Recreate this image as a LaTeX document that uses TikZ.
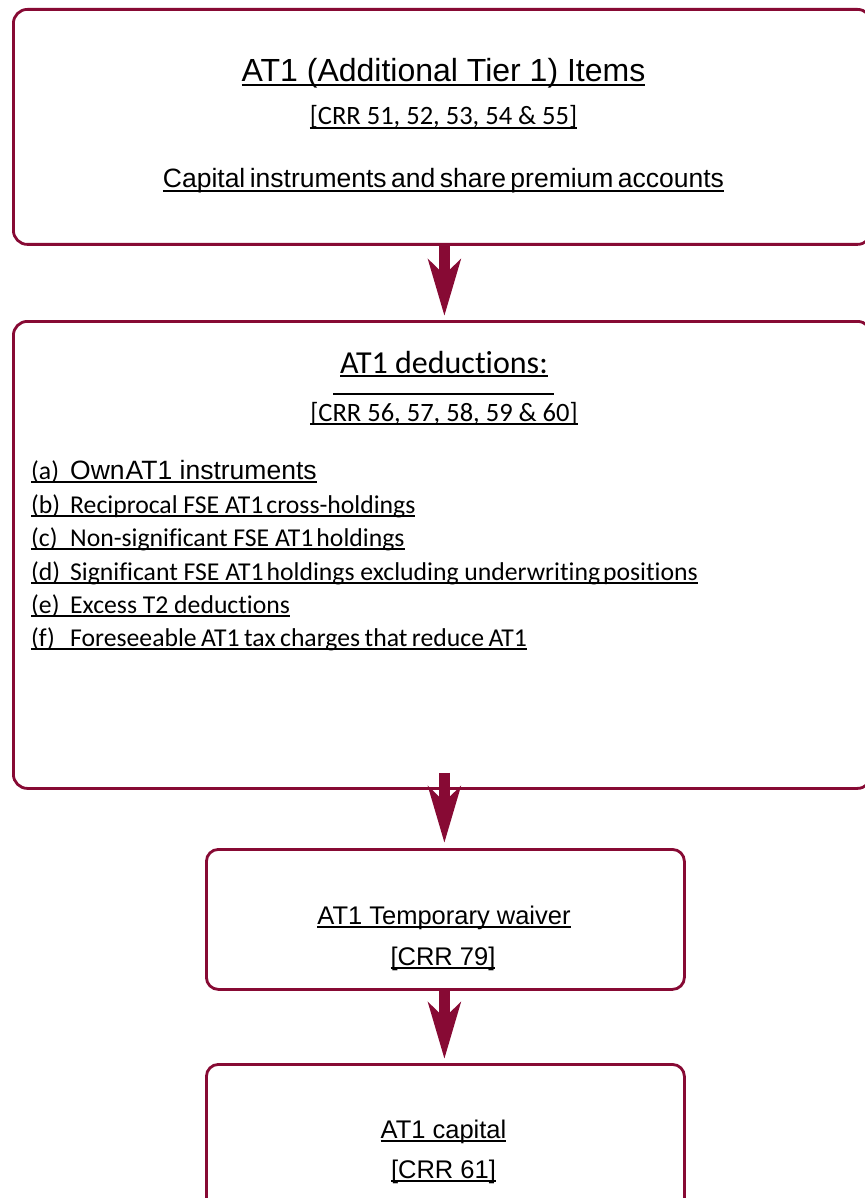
\documentclass[tikz,border=0pt]{standalone}
\usepackage{fontspec}
\setmainfont{Liberation Sans}
\newfontfamily\carlito[Ligatures=NoCommon]{Carlito}
\newfontfamily\arialtight[WordSpace=0.6]{Liberation Sans}
\usetikzlibrary{arrows.meta}

\definecolor{claret}{RGB}{135,10,52}

% underlined text, rule just below the baseline
\newsavebox\ulbox
\newcommand\ulin[1]{\sbox\ulbox{#1}\rlap{\rule[-3.6pt]{\wd\ulbox}{1.8pt}}\usebox\ulbox}
\newcommand\nsp{\hspace{3pt}}

\begin{document}
\begin{tikzpicture}[
            x = 1pt, y = -1pt, % pixel grid, y runs down
            inner sep = 0pt
        ]

        \tikzstyle{box}=[
            rectangle,
            draw = claret,
            line width = 2.8pt,
            rounded corners = 14pt,
            anchor = north west
        ]
        \tikzstyle{flow}=[
            draw = claret,
            line width = 11pt,
            -{Stealth[length=56pt, width=32pt, inset=15pt]}
        ]
        \tikzstyle{head}=[anchor = base, font = \fontsize{32}{38}\selectfont]
        \tikzstyle{ref}=[anchor = base, font = \carlito\fontsize{26.5}{32}\selectfont]
        \tikzstyle{label}=[anchor = base, font = \fontsize{25.5}{30}\selectfont]
        \tikzstyle{item}=[anchor = base west, font = \carlito\fontsize{25.7}{30}\selectfont]

        \path[use as bounding box, fill = white] (0,0) rectangle (864,1198);

        % boxes
        \node[box, minimum width = 858pt, minimum height = 235pt] (items) at (12,8) {};
        \node[box, minimum width = 858pt, minimum height = 467pt] (ded) at (12,320) {};
        \node[box, minimum width = 478pt, minimum height = 140pt, rounded corners = 12pt] (waiver) at (205,848) {};
        \node[box, minimum width = 478pt, minimum height = 180pt, rounded corners = 12pt] (capital) at (205,1063) {};

        % top box
        \node[head] (itemshead) at (443.5,82) {\ulin{AT1 (Additional Tier 1) Items}};
        \node[ref] (itemsref) at (443.5,125) {\ulin{[CRR 51, 52, 53, 54 \& 55]}};
        \node[label, font = \arialtight\fontsize{26.5}{30}\selectfont] (itemsline) at (443.5,188) {\ulin{Capital instruments and share premium accounts}};

        % deductions box
        \node[head, font = \carlito\fontsize{32}{38}\selectfont] (dedhead) at (444,373) {\ulin{AT1 deductions:}};
        \draw[line width = 1.4pt] (333,394) -- (554,394);
        \node[ref] (dedref) at (444,421) {\ulin{[CRR 56, 57, 58, 59 \& 60]}};

        \node[item] (da) at (31,479.5) {\ulin{\makebox[39pt][l]{(a)}\rmfamily\fontsize{26.5}{30}\selectfont Own\hspace{1pt}AT1 instruments}};
        \node[item] (db) at (31,513) {\ulin{\makebox[39pt][l]{(b)}Reciprocal FSE AT1\nsp cross-holdings}};
        \node[item] (dc) at (31,546.5) {\ulin{\makebox[39pt][l]{(c)}Non-significant FSE AT1\nsp holdings}};
        \node[item] (dd) at (31,580) {\ulin{\makebox[39pt][l]{(d)}Significant FSE AT1\nsp holdings excluding underwriting\nsp positions}};
        \node[item] (de) at (31,613) {\ulin{\makebox[39pt][l]{(e)}Excess T2 deductions}};
        \node[item] (df) at (31,646.5) {\ulin{\makebox[39pt][l]{(f)}Foreseeable\hspace{4.5pt}AT1\hspace{4.5pt}tax\hspace{4.5pt}charges\hspace{4.5pt}that\hspace{4.5pt}reduce\hspace{4.5pt}AT1}};

        % waiver box
        \node[label] (waiverhead) at (444,924) {\ulin{AT1 Temporary waiver}};
        \node[label] (waiverref) at (443,965) {\ulin{[CRR 79]}};

        % capital box
        \node[label] (capitalhead) at (443.5,1138) {\ulin{AT1 capital}};
        \node[label] (capitalref) at (443.5,1178) {\ulin{[CRR 61]}};

        % flow arrows
        \draw[flow] ([xshift=2pt]items.south) -- ([xshift=2pt, yshift=4pt]ded.north);
        \draw[flow] ([xshift=2pt, yshift=17pt]ded.south) -- ([xshift=-1pt, yshift=5pt]waiver.north);
        \draw[flow] ([xshift=-1pt]waiver.south) -- ([xshift=-1pt, yshift=4pt]capital.north);

  \end{tikzpicture}
\end{document}
